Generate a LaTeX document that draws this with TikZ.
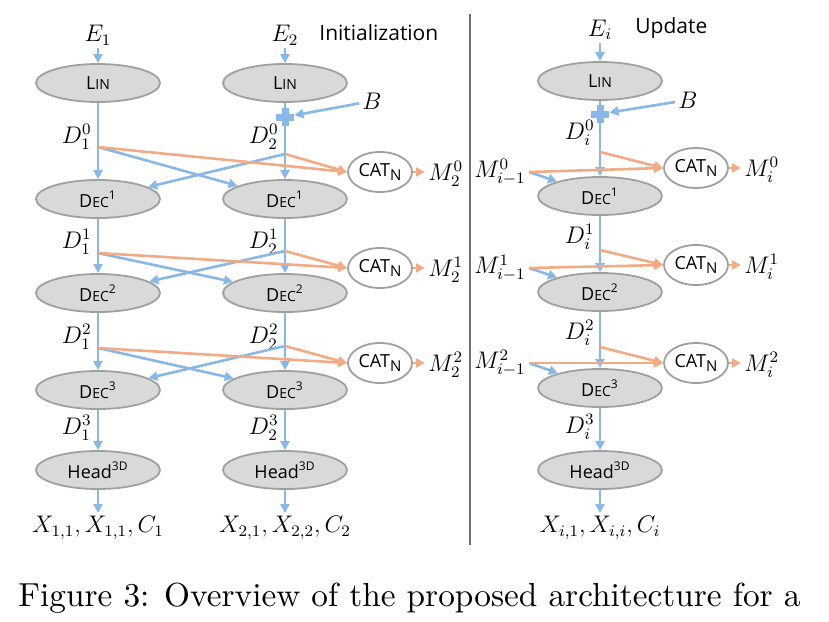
\documentclass[tikz,border=0pt]{standalone}
\usepackage{fontspec}
\usepackage{graphicx}
\setsansfont{Open Sans}
\usetikzlibrary{arrows.meta,shapes.geometric}
\definecolor{lineblue}{RGB}{137,183,232}
\definecolor{lineorange}{RGB}{243,171,134}
\definecolor{boxgrey}{RGB}{217,217,217}
\definecolor{rimgrey}{RGB}{160,160,160}
\definecolor{sepgrey}{RGB}{110,110,110}
\newcommand{\lowcaps}[2]{#1{\fontsize{7}{8}\selectfont #2}}
\newcommand{\catn}{CAT\raisebox{-0.35ex}{\fontsize{7.5}{8}\selectfont N}}
\begin{document}
\begin{tikzpicture}[x=0.5pt,y=-0.5pt,
  block/.style={ellipse,draw=rimgrey,fill=boxgrey,line width=0.9pt,minimum width=62pt,minimum height=19pt,inner sep=0pt,font=\sffamily\fontsize{9}{10}\selectfont},
  catbox/.style={ellipse,draw=rimgrey,fill=white,line width=0.9pt,minimum width=32pt,minimum height=20pt,inner sep=0pt,font=\sffamily\fontsize{9}{10}\selectfont},
  lbl/.style={inner sep=1.5pt,font=\fontsize{12}{14}\selectfont},
  title/.style={anchor=west,inner sep=0pt,font=\sffamily\fontsize{10.5}{12}\selectfont},
  flow/.style={draw=lineblue,line width=1.3pt,-{Triangle[length=4.5pt,width=4.5pt]}},
  mix/.style={draw=lineorange,line width=1.3pt,-{Triangle[length=4.5pt,width=4.5pt]}},
  plusmark/.style={minimum size=9pt,inner sep=0pt,path picture={
    \draw[lineblue,line width=3.5pt] (path picture bounding box.north) -- (path picture bounding box.south)
      (path picture bounding box.west) -- (path picture bounding box.east);}}]
\useasboundingbox (0,0) rectangle (829,621);

% initialization
\node[lbl] (e1) at (98,35) {$E_1$};
\node[lbl] (e2) at (285,35) {$E_2$};
\node[title] (init) at (319,33) {Initialization};
\node[block] (lin1) at (98,83) {\lowcaps{L}{IN}};
\node[block] (lin2) at (285,83) {\lowcaps{L}{IN}};
\node[plusmark] (plus2) at (285,117) {};
\node[lbl] (b2) at (372,101) {$B$};
\foreach \k/\y in {1/199,2/293,3/390}{
  \node[block] (dec1\k) at (98,\y) {\lowcaps{D}{EC}\textsuperscript{\k}};
  \node[block] (dec2\k) at (285,\y) {\lowcaps{D}{EC}\textsuperscript{\k}};
}
\node[block] (head1) at (98,470) {Head\textsuperscript{3D}};
\node[block] (head2) at (285,470) {Head\textsuperscript{3D}};
\node[lbl] (out1) at (98,528) {$X_{1,1},X_{1,1},C_1$};
\node[lbl] (out2) at (285,528) {$X_{2,1},X_{2,2},C_2$};
\foreach \k/\y in {0/137,1/242,2/337,3/428}{
  \node[lbl,anchor=east] (d1\k) at (95,\y) {$D_1^{\k}$};
  \node[lbl,anchor=east] (d2\k) at (282,\y) {$D_2^{\k}$};
}
\foreach \k/\ya/\yb/\yc in {0/147/154/172,1/253/251/268,2/348/346/363}{
  \coordinate (br1\k) at (98,\ya);
  \coordinate (br2\k) at (285,\yb);
  \node[catbox] (cat\k) at (380,\yc) {\catn};
  \node[lbl,anchor=west] (m\k) at (425,\yc+2) {$M_2^{\k}$};
}

\draw[flow] (e1) -- (lin1);
\draw[flow] (e2) -- (lin2);
\draw[lineblue,line width=1.3pt] (lin2) -- (plus2);
\draw[flow] (b2) -- (plus2);
\draw[flow] (lin1) -- (dec11);
\draw[flow] (plus2) -- (dec21);
\foreach \c in {1,2}{
  \draw[flow] (dec\c1) -- (dec\c2);
  \draw[flow] (dec\c2) -- (dec\c3);
  \draw[flow] (dec\c3) -- (head\c);
  \draw[flow] (head\c) -- (out\c);
}
\foreach \k/\n in {0/1,1/2,2/3}{
  \draw[flow] (br1\k) -- (dec2\n);
  \draw[flow] (br2\k) -- (dec1\n);
  \draw[mix] (br1\k) -- (cat\k.west);
  \draw[mix] (br2\k) -- (cat\k.west);
  \draw[mix] (cat\k.east) -- (m\k.west |- cat\k.east);
}

\draw[sepgrey,line width=0.8pt] (470,14) -- (470,545);

% update
\node[lbl] (ei) at (600,30) {$E_i$};
\node[title] (upd) at (635,28) {Update};
\node[block] (lini) at (600,81) {\lowcaps{L}{IN}};
\node[plusmark] (plusi) at (600,114) {};
\node[lbl] (bi) at (688,100) {$B$};
\foreach \k/\y in {1/196,2/292,3/388}{
  \node[block] (deci\k) at (600,\y) {\lowcaps{D}{EC}\textsuperscript{\k}};
}
\node[block] (headi) at (600,470) {Head\textsuperscript{3D}};
\node[lbl] (outi) at (600,528) {$X_{i,1},X_{i,i},C_i$};
\foreach \k/\y in {0/133,1/237,2/333,3/427}{
  \node[lbl,anchor=east] (di\k) at (598,\y) {$D_i^{\k}$};
}
\foreach \k/\yb/\yc/\ym in {0/152/168/172,1/250/265/268,2/347/363/363}{
  \coordinate (bri\k) at (600,\yb);
  \node[catbox] (ci\k) at (696,\yc) {\catn};
  \node[lbl,anchor=west] (mi\k) at (741,\yc+2) {$M_i^{\k}$};
  \node[lbl,anchor=east] (mp\k) at (529,\ym) {$M_{i-1}^{\k}$};
}

\draw[flow] (ei) -- (lini);
\draw[lineblue,line width=1.3pt] (lini) -- (plusi);
\draw[flow] (bi) -- (plusi);
\draw[flow] (plusi) -- (deci1);
\draw[flow] (deci1) -- (deci2);
\draw[flow] (deci2) -- (deci3);
\draw[flow] (deci3) -- (headi);
\draw[flow] (headi) -- (outi);
\foreach \k/\n in {0/1,1/2,2/3}{
  \draw[flow] (mp\k.east) -- (deci\n);
  \draw[mix] (mp\k.east) -- (ci\k.west);
  \draw[mix] (bri\k) -- (ci\k.west);
  \draw[mix] (ci\k.east) -- (mi\k.west |- ci\k.east);
}

\node[anchor=west,inner sep=0pt] (caption) at (18,598) {\resizebox{391pt}{!}{Figure 3: Overview of the proposed architecture for a}};
\end{tikzpicture}
\end{document}
